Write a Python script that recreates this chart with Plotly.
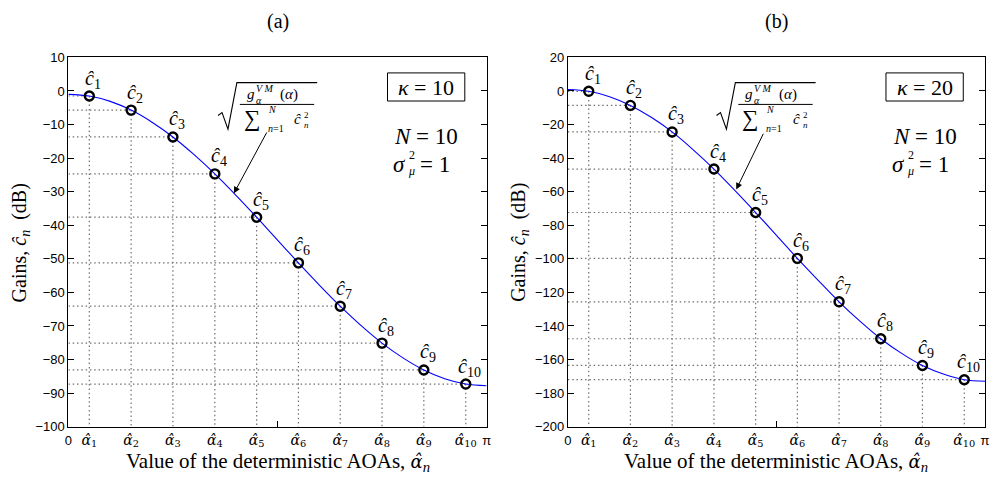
import plotly.graph_objects as go

# ---------------- data ----------------
PI = 3.14159265
alpha_hat = [0.157, 0.471, 0.785, 1.100, 1.414, 1.728, 2.042, 2.356, 2.670, 2.985]
alpha_grid = [0.0, 0.157, 0.314, 0.471, 0.628, 0.785, 0.942, 1.100, 1.257, 1.414, 1.571,
              1.728, 1.885, 2.042, 2.199, 2.356, 2.513, 2.670, 2.827, 2.985, PI]

gain_a = [-1.5, -5.7, -13.7, -24.7, -37.6, -51.2, -64.1, -75.1, -83.1, -87.3]
gain_b = [-0.2, -8.6, -24.4, -46.5, -72.4, -99.7, -125.6, -147.6, -163.5, -172.0]

curve_a = [-1.0, -1.5, -3.1, -5.7, -9.3, -13.7, -18.9, -24.7, -31.0, -37.6, -44.4,
           -51.2, -57.8, -64.1, -69.9, -75.1, -79.5, -83.1, -85.7, -87.3, -87.8]
curve_b = [0.9, -0.2, -3.4, -8.6, -15.7, -24.4, -34.9, -46.5, -59.2, -72.4, -86.0,
           -99.7, -112.8, -125.6, -137.1, -147.6, -156.3, -163.5, -168.6, -172.0, -172.9]

kappa_values = ["10", "20"]
panel_titles = ["(a)", "(b)"]
y_ranges = [(-100, 10), (-200, 20)]
y_dticks = [10, 20]
arrow_heads = [(1.243, -30.5), (1.268, -58.7)]
arrow_tails = [(1.496, -11.9), (1.477, -24.6)]

alpha_ticktext = [f"<i>α̂</i><sub>{n}</sub>" for n in range(1, 11)]
c_text = [f"<i>ĉ</i><sub>{n}</sub>" for n in range(1, 11)]

SERIF = "Liberation Serif"
GREEK = "DejaVu Serif"
SANS = "Liberation Sans"
W, H = 999, 489

# ---------------- figure ----------------
fig = go.Figure()
panels = [(gain_a, curve_a), (gain_b, curve_b)]
x_domains = [(65 / W, 487 / W), (569 / W, 990 / W)]
y_domain = (1 - 433 / H, 1 - 52 / H)
px_offsets = [0, 503]

annotations = []
shapes = []


def px(x, y):
    return x / W, 1 - y / H


def txt(x, y, text, size, xanchor="center", family=SERIF, **kw):
    a, b = px(x, y)
    d = dict(x=a, y=b, xref="paper", yref="paper", text=text, showarrow=False,
             xanchor=xanchor, yanchor="middle", borderpad=0,
             font=dict(family=family, size=size, color="black"))
    d.update(kw)
    annotations.append(d)


for i, (gains, curve) in enumerate(panels):
    xr = "x" if i == 0 else "x2"
    yr = "y" if i == 0 else "y2"
    ymin = y_ranges[i][0]

    # dotted guide lines
    gx, gy = [], []
    for a, c in zip(alpha_hat, gains):
        gx += [0, a, None, a, a, None]
        gy += [c, c, None, c, ymin, None]
    fig.add_trace(go.Scatter(x=gx, y=gy, mode="lines", xaxis=xr, yaxis=yr,
                             line=dict(color="#707070", width=1.2, dash="1.5px,2.8px"),
                             hoverinfo="skip", showlegend=False))
    # theoretical curve
    fig.add_trace(go.Scatter(x=alpha_grid, y=curve, mode="lines", xaxis=xr, yaxis=yr,
                             line=dict(color="#0000ff", width=1.1, shape="spline"),
                             showlegend=False))
    # gains markers
    fig.add_trace(go.Scatter(x=alpha_hat, y=gains, mode="markers", xaxis=xr, yaxis=yr,
                             marker=dict(symbol="circle-open", size=9, color="black",
                                         line=dict(width=2.4, color="black")),
                             showlegend=False))
    # c labels
    for a, c, t in zip(alpha_hat, gains, c_text):
        annotations.append(dict(x=a, y=c, xref=xr, yref=yr, text=t, showarrow=False,
                                xanchor="center", yanchor="middle", borderpad=0,
                                xshift=4, yshift=17, font=dict(family=SERIF, size=20, color="black")))

    off = px_offsets[i]
    cxp = (x_domains[i][0] + x_domains[i][1]) / 2 * W
    # panel title
    txt(cxp, 15, panel_titles[i], 20)
    # x title
    txt(cxp, 469, f"Value of the deterministic AOAs, <span style='font-family:{GREEK};font-size:18px'><i>α̂</i></span><sub><i>n</i></sub>", 21)
    # y title
    txt(17 + off, 243, "Gains, <i>ĉ</i><sub><i>n</i></sub>  (dB)", 20, textangle=-90)

    # kappa box
    b0, b1 = px(387 + off, 68), px(465 + off, 97)
    shapes.append(dict(type="rect", x0=b0[0], y0=b0[1], x1=b1[0], y1=b1[1],
                       xref="paper", yref="paper", line=dict(color="black", width=1),
                       fillcolor="white", layer="above"))
    txt(426 + off, 83, f"<i>κ</i> = {kappa_values[i]}", 22)
    # N and sigma
    txt(393 + off, 134, "<i>N</i> = 10", 23, xanchor="left")
    txt(392 + off, 163, "<i>σ</i>", 23, xanchor="left")
    txt(408 + off, 153, "2", 12, xanchor="left")
    txt(407 + off, 169, "<i>μ</i>", 12, xanchor="left")
    txt(419 + off, 163, "= 1", 23, xanchor="left")

    # sqrt formula
    p = [px(216 + off, 112), px(220 + off, 109), px(226 + off, 126),
         px(235 + off, 78), px(316 + off, 78)]
    path = "M " + " L ".join(f"{a:.5f},{b:.5f}" for a, b in p)
    shapes.append(dict(type="path", path=path, xref="paper", yref="paper",
                       line=dict(color="black", width=1.1)))
    f0, f1 = px(238 + off, 100.5), px(313 + off, 100.5)
    shapes.append(dict(type="line", x0=f0[0], y0=f0[1], x1=f1[0], y1=f1[1],
                       xref="paper", yref="paper", line=dict(color="black", width=1)))
    # numerator
    txt(244 + off, 90, "<i>g</i>", 15, xanchor="left")
    txt(253 + off, 96, "<i>α</i>", 10, xanchor="left")
    txt(253 + off, 84, "<i>V M</i>", 10, xanchor="left")
    txt(278 + off, 90, "(<i>α</i>)", 15, xanchor="left")
    # denominator
    txt(241 + off, 115, "∑", 23, xanchor="left")
    txt(265 + off, 106, "<i>N</i>", 10, xanchor="left")
    txt(265 + off, 125, "<i>n</i>=1", 10, xanchor="left")
    txt(292 + off, 116, "<i>ĉ</i>", 15, xanchor="left")
    txt(302 + off, 111, "2", 9, xanchor="left")
    txt(302 + off, 122, "<i>n</i>", 9, xanchor="left")

    # arrow
    annotations.append(dict(x=arrow_heads[i][0], y=arrow_heads[i][1], xref=xr, yref=yr,
                            ax=arrow_tails[i][0], ay=arrow_tails[i][1], axref=xr, ayref=yr,
                            showarrow=True, arrowhead=2, arrowsize=1.3, arrowwidth=1,
                            arrowcolor="black", text=""))

tickvals = [0] + alpha_hat + [PI]
ticktext = [f"<span style='font-family:{SANS};font-size:13px'>0</span>"] + alpha_ticktext + \
           [f"<span style='font-family:{SANS};font-size:13px'>π</span>"]


def xaxis(dom, anchor):
    return dict(domain=list(dom), range=[0, PI], anchor=anchor, showline=True, linecolor="black",
                linewidth=1, mirror=True, showgrid=False, zeroline=False, ticks="",
                tickvals=tickvals, ticktext=ticktext,
                tickfont=dict(family=GREEK, size=14, color="black"),
                minor=dict(tickvals=[PI / 2], ticks="inside", ticklen=6, tickcolor="black"))


def yaxis(rng, dt, anchor):
    return dict(domain=list(y_domain), range=list(rng), dtick=dt, anchor=anchor, showline=True,
                linecolor="black", linewidth=1, mirror="ticks", showgrid=False, zeroline=False,
                ticks="inside", ticklen=6, tickcolor="black",
                tickfont=dict(family=SANS, size=13, color="black"))


fig.update_layout(
    width=W, height=H, margin=dict(l=0, r=0, t=0, b=0),
    paper_bgcolor="white", plot_bgcolor="white",
    xaxis=xaxis(x_domains[0], "y"), xaxis2=xaxis(x_domains[1], "y2"),
    yaxis=yaxis(y_ranges[0], y_dticks[0], "x"), yaxis2=yaxis(y_ranges[1], y_dticks[1], "x2"),
    annotations=annotations, shapes=shapes, showlegend=False,
)

fig.write_html("out.html")
